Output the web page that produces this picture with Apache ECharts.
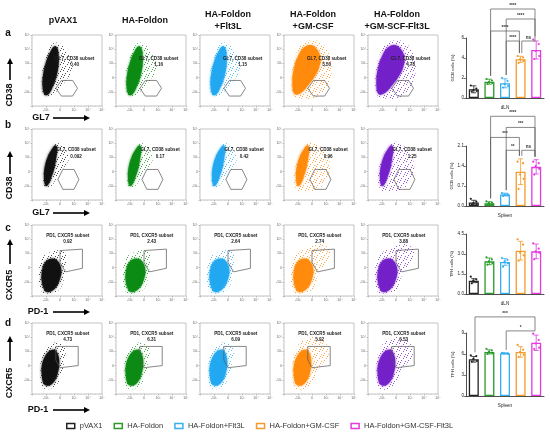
<!DOCTYPE html>
<html lang="en" style="height: 100%">
<head>
<meta charset="UTF-8">
<title>GC B and TFH cells</title>
<script src="https://cdn.jsdelivr.net/npm/echarts@6/dist/echarts.min.js"></script>
</head>
<body style="height: 100%; margin: 0; background: #fff">
<div id="container" style="width: 550px; height: 435px"></div>
<script>
// ---- data ----
var groups = ['pVAX1', 'HA-Foldon', 'HA-Foldon+Flt3L', 'HA-Foldon+GM-CSF', 'HA-Foldon+GM-CSF-Flt3L'];
var headers = ['pVAX1', 'HA-Foldon', 'HA-Foldon\n+Flt3L', 'HA-Foldon\n+GM-CSF', 'HA-Foldon\n+GM-SCF-Flt3L'];
var rowLetters = ['a', 'b', 'c', 'd'];
var gateNames = ['GL7, CD38 subset', 'GL7, CD38 subset', 'PD1, CXCR5 subset', 'PD1, CXCR5 subset'];

// gate frequencies printed in each dot plot
var gcbDlnGate = ['0.40', '1.16', '1.15', '3.50', '4.78'];
var gcbSpleenGate = ['0.092', '0.17', '0.42', '0.96', '1.25'];
var tfhDlnGate = ['0.92', '2.43', '2.64', '2.74', '3.88'];
var tfhSpleenGate = ['4.73', '6.31', '6.09', '5.92', '6.53'];

// gates (x, y on a 0-100 display scale)
var hexGateA = [[34, 25], [42, 36], [58, 36], [65, 25], [58, 14], [42, 14]];
var hexGateB = [[37, 29], [44, 43], [60, 43], [67, 29], [60, 15], [44, 15]];
var tfhGateC = [[40, 64], [72, 66], [72, 39], [48, 34], [40, 47]];
var tfhGateD = [[34, 67], [66, 67], [66, 40], [40, 37], [34, 48]];

// outlines of the dense cores and sparse fringes of the event clouds
var coreA = [[18, 16], [15, 28], [16, 45], [20, 62], [26, 76], [32, 84], [36, 82], [38, 72], [38, 58], [35, 42], [30, 28], [24, 17]];
var fringeA = [[17, 15], [14, 40], [20, 70], [30, 88], [40, 88], [48, 78], [56, 64], [58, 50], [50, 38], [40, 26], [28, 15]];
var coreAwide = [[15, 17], [12, 33], [14, 52], [20, 70], [28, 82], [38, 86], [47, 80], [52, 68], [50, 54], [44, 42], [35, 30], [25, 19]];
var fringeAwide = [[14, 14], [11, 45], [20, 80], [35, 92], [52, 90], [62, 78], [68, 60], [66, 36], [58, 20], [44, 12], [28, 10]];
var coreB = [[19, 20], [17, 32], [18, 46], [22, 60], [28, 71], [33, 77], [36, 74], [35, 62], [32, 45], [27, 30], [22, 20]];
var fringeB = [[18, 18], [17, 40], [24, 66], [33, 80], [41, 78], [50, 68], [53, 58], [46, 46], [37, 34], [28, 20]];
var fringeBwide = [[17, 16], [16, 45], [26, 72], [36, 82], [48, 78], [60, 66], [66, 48], [62, 28], [50, 16], [32, 12]];
var coreC = [[17, 10], [14, 20], [14, 34], [18, 46], [25, 52], [33, 52], [39, 46], [42, 36], [40, 24], [34, 12], [26, 6], [20, 6]];
var fringeC = [[14, 6], [10, 32], [15, 54], [27, 62], [40, 64], [50, 58], [48, 44], [46, 26], [40, 10], [27, 4]];
var fringeCwide = [[14, 6], [10, 32], [15, 56], [28, 66], [42, 72], [58, 72], [66, 60], [58, 44], [48, 28], [40, 8], [27, 4]];
var coreD = [[17, 14], [14, 26], [14, 40], [18, 52], [24, 60], [32, 62], [37, 56], [39, 44], [37, 30], [32, 18], [24, 12]];
var fringeD = [[15, 10], [12, 35], [15, 58], [25, 70], [38, 72], [48, 64], [46, 48], [43, 30], [36, 14], [25, 7]];
var fringeDwide = [[15, 10], [12, 38], [16, 62], [28, 76], [45, 80], [60, 72], [64, 55], [55, 42], [45, 25], [35, 10], [24, 6]];

var flowTickText = {20: '-10³', 40: '0', 60: '10³', 80: '10⁴', 100: '10⁵'};

// bar charts: means, SD and single mice
var gcbDlnMean = [0.87, 1.63, 1.47, 3.87, 4.8];
var gcbDlnSd = [0.35, 0.25, 0.45, 0.3, 0.9];
var gcbDlnDots = [[1.25, 0.95, 0.8, 0.7, 0.65], [1.9, 1.75, 1.6, 1.5, 1.4], [2.0, 1.7, 1.4, 1.2, 1.05], [4.2, 4.05, 3.9, 3.7, 3.5], [5.85, 5.4, 4.7, 4.2, 3.9]];
var gcbSpleenMean = [0.12, 0.1, 0.4, 1.2, 1.37];
var gcbSpleenSd = [0.08, 0.05, 0.05, 0.45, 0.25];
var gcbSpleenDots = [[0.25, 0.15, 0.1, 0.07, 0.05], [0.16, 0.12, 0.1, 0.07, 0.05], [0.45, 0.42, 0.4, 0.37, 0.35], [1.55, 1.5, 1.1, 0.95, 0.6], [1.55, 1.5, 1.4, 1.3, 1.1]];
var tfhDlnMean = [1.0, 2.45, 2.4, 3.25, 3.2];
var tfhDlnSd = [0.15, 0.25, 0.25, 0.7, 0.55];
var tfhDlnDots = [[1.3, 1.1, 1.0, 0.9, 0.8], [2.75, 2.6, 2.45, 2.3, 2.2], [2.7, 2.55, 2.45, 2.3, 2.05], [4.1, 3.7, 3.1, 2.9, 2.5], [3.8, 3.4, 3.2, 3.1, 2.6]];
var tfhSpleenMean = [5.24, 6.3, 6.1, 6.3, 7.6];
var tfhSpleenSd = [0.4, 0.3, 0.05, 0.75, 1.1];
var tfhSpleenDots = [[5.8, 5.7, 5.3, 5.0, 4.9], [6.75, 6.5, 6.3, 6.1, 6.0], [6.15, 6.1, 6.1, 6.05, 6.1], [7.3, 6.6, 6.3, 5.9, 5.6], [8.9, 8.0, 7.5, 6.9, 6.7]];

var gcbDlnTicks = [0, 2, 4, 6];
var gcbSpleenTicks = [0, 0.7, 1.4, 2.1];
var tfhDlnTicks = [0, 1.5, 3, 4.5];
var tfhSpleenTicks = [0, 3, 6, 9];

// significance brackets: [from group, to group, height in axis units, label]
var gcbDlnSig = [[1, 4, 8.9, '****'], [2, 4, 7.9, '****'], [1, 3, 6.7, '****'], [2, 3, 5.7, '****'], [3, 4, 5.7, 'ns']];
var gcbSpleenSig = [[1, 4, 3.14, '****'], [2, 4, 2.75, '***'], [1, 3, 2.4, '***'], [2, 3, 1.95, '**'], [3, 4, 1.95, 'ns']];
var tfhDlnSig = [];
var tfhSpleenSig = [[0, 4, 11.3, '***'], [2, 4, 9.3, '*']];

// ---- styling / layout ----
var flowColors = ['#111111', '#0b8a14', '#22a8f0', '#ff8a0c', '#7420c8'];
var barColors = ['#222222', '#2a9a2a', '#36aef0', '#f59a2c', '#e23be0'];
var font = '"Liberation Sans", Arial, sans-serif';
var colLeft = [32, 116, 200, 284, 368];
var rowTop = [35, 129, 225, 323];
var headerX = [63, 145, 228, 313, 397];
var barTop = [38, 146, 234, 333];
var barHeight = [60, 60, 60, 63];
var barNames = ['dLN', 'Spleen', 'dLN', 'Spleen'];
var barYNames = ['GCB cells (%)', 'GCB cells (%)', 'TFH cells (%)', 'TFH cells (%)'];
var barDecimals = [0, 1, 1, 0];
var dotOffsets = [-3, 2.5, -0.5, 3, -2];

var rows = [
    {gate: hexGateA, values: gcbDlnGate, cores: [coreA, coreA, coreA, coreAwide, coreAwide], fringes: [fringeA, fringeA, fringeA, fringeAwide, fringeAwide], text: [61, 67], value: [61, 58]},
    {gate: hexGateB, values: gcbSpleenGate, cores: [coreB, coreB, coreB, coreB, coreB], fringes: [fringeB, fringeB, fringeB, fringeBwide, fringeBwide], text: [63, 71], value: [63, 61]},
    {gate: tfhGateC, values: tfhDlnGate, cores: [coreC, coreC, coreC, coreC, coreC], fringes: [fringeC, fringeC, fringeC, fringeCwide, fringeCwide], text: [51, 85], value: [51, 76]},
    {gate: tfhGateD, values: tfhSpleenGate, cores: [coreD, coreD, coreD, coreD, coreD], fringes: [fringeD, fringeD, fringeD, fringeDwide, fringeDwide], text: [51, 85], value: [51, 76]}
];
var bars = [
    {mean: gcbDlnMean, sd: gcbDlnSd, dots: gcbDlnDots, ticks: gcbDlnTicks, sig: gcbDlnSig},
    {mean: gcbSpleenMean, sd: gcbSpleenSd, dots: gcbSpleenDots, ticks: gcbSpleenTicks, sig: gcbSpleenSig},
    {mean: tfhDlnMean, sd: tfhDlnSd, dots: tfhDlnDots, ticks: tfhDlnTicks, sig: tfhDlnSig},
    {mean: tfhSpleenMean, sd: tfhSpleenSd, dots: tfhSpleenDots, ticks: tfhSpleenTicks, sig: tfhSpleenSig}
];

// sparse stipple texture for the thin part of each cloud
function stipple(color) {
    var c = document.createElement('canvas');
    c.width = c.height = 7;
    var ctx = c.getContext('2d');
    ctx.fillStyle = color;
    ctx.globalAlpha = 0.75;
    [[0, 0], [4, 1], [2, 3], [6, 4], [1, 5], [5, 6]].forEach(function (p) {
        ctx.fillRect(p[0], p[1], 1, 1);
    });
    return {image: c, repeat: 'repeat'};
}
var textures = flowColors.map(stipple);

var grid = [], xAxis = [], yAxis = [], series = [];

rows.forEach(function (row, r) {
    groups.forEach(function (g, c) {
        var gi = grid.length;
        grid.push({left: colLeft[c], top: rowTop[r], width: 70, height: 71, show: true,
            borderColor: '#aaa', borderWidth: 0.7, backgroundColor: '#fff'});
        var flowAxis = {
            gridIndex: gi, type: 'value', min: 0, max: 100, interval: 20,
            splitLine: {show: false},
            axisLine: {show: false},
            axisTick: {show: true, length: 1.5, lineStyle: {color: '#888', width: 0.5}},
            minorTick: {show: true, splitNumber: 4, length: 0.8, lineStyle: {color: '#aaa', width: 0.4}},
            axisLabel: {fontSize: 3.5, margin: 2, color: '#666', fontFamily: font,
                formatter: function (v) { return flowTickText[v] || ''; }}
        };
        xAxis.push(flowAxis);
        yAxis.push(Object.assign({}, flowAxis));
        series.push({
            type: 'custom', xAxisIndex: gi, yAxisIndex: gi, silent: true, clip: true,
            data: [[0, 0]],
            renderItem: function (params, api) {
                function pts(list) { return list.map(function (p) { return api.coord(p); }); }
                var col = flowColors[c];
                var t = api.coord(row.text), v = api.coord(row.value);
                return {type: 'group', children: [
                    {type: 'polygon', shape: {points: pts(row.fringes[c]), smooth: 0.4},
                        style: {fill: textures[c]}},
                    {type: 'polygon', shape: {points: pts(row.cores[c]), smooth: 0.4},
                        style: {fill: col, opacity: 0.95, shadowBlur: 2.5, shadowColor: col}},
                    {type: 'polygon', shape: {points: pts(row.gate)},
                        style: {fill: 'none', stroke: '#555', lineWidth: 0.7}},
                    {type: 'text', style: {text: gateNames[r], x: t[0], y: t[1], align: 'center', verticalAlign: 'middle',
                        font: 'bold 4.6px ' + font, fill: '#222'}},
                    {type: 'text', style: {text: row.values[c], x: v[0], y: v[1], align: 'center', verticalAlign: 'middle',
                        font: 'bold 4.6px ' + font, fill: '#222'}}
                ]};
            }
        });
    });
});

bars.forEach(function (b, k) {
    var gi = grid.length;
    grid.push({left: 466, top: barTop[k], width: 78, height: barHeight[k]});
    xAxis.push({
        gridIndex: gi, type: 'category', data: groups,
        axisLine: {lineStyle: {color: '#222', width: 0.8}},
        axisTick: {alignWithLabel: true, length: 2, lineStyle: {color: '#222', width: 0.6}},
        axisLabel: {show: false},
        name: barNames[k], nameLocation: 'middle', nameGap: 7,
        nameTextStyle: {fontSize: 4.6, color: '#222', fontFamily: font}
    });
    yAxis.push({
        gridIndex: gi, type: 'value', min: 0, max: b.ticks[b.ticks.length - 1], interval: b.ticks[1],
        splitLine: {show: false},
        axisLine: {show: true, lineStyle: {color: '#222', width: 0.8}},
        axisTick: {show: true, length: 2, lineStyle: {color: '#222', width: 0.6}},
        axisLabel: {fontSize: 4.6, margin: 2, color: '#222', fontFamily: font,
            formatter: function (v) { return v.toFixed(barDecimals[k]); }},
        name: barYNames[k], nameLocation: 'middle', nameGap: 11, nameRotate: 90,
        nameTextStyle: {fontSize: 4.3, color: '#222', fontFamily: font}
    });
    // highest mark of each group, used to end the bracket legs
    var groupTop = b.mean.map(function (m, i) {
        return Math.max(m + b.sd[i], Math.max.apply(null, b.dots[i]));
    });
    series.push({
        type: 'bar', xAxisIndex: gi, yAxisIndex: gi, barWidth: 10, silent: true,
        itemStyle: {color: '#fff', borderWidth: 1.3},
        data: b.mean.map(function (m, i) {
            return {value: m, itemStyle: {borderColor: barColors[i]}};
        })
    });
    series.push({
        type: 'custom', xAxisIndex: gi, yAxisIndex: gi, silent: true, z: 3,
        data: b.mean.map(function (m, i) { return [i, m, b.sd[i]]; }),
        renderItem: function (params, api) {
            var i = api.value(0), m = api.value(1), s = api.value(2);
            var top = api.coord([i, m + s]), bot = api.coord([i, Math.max(0, m - s)]);
            var x = top[0], st = {stroke: barColors[i], lineWidth: 0.8};
            return {type: 'group', children: [
                {type: 'line', shape: {x1: x, y1: top[1], x2: x, y2: bot[1]}, style: st},
                {type: 'line', shape: {x1: x - 2.5, y1: top[1], x2: x + 2.5, y2: top[1]}, style: st},
                {type: 'line', shape: {x1: x - 2.5, y1: bot[1], x2: x + 2.5, y2: bot[1]}, style: st}
            ]};
        }
    });
    var dotData = [];
    b.dots.forEach(function (list, i) {
        list.forEach(function (v, j) { dotData.push([i, v, j]); });
    });
    series.push({
        type: 'custom', xAxisIndex: gi, yAxisIndex: gi, silent: true, z: 4,
        data: dotData,
        renderItem: function (params, api) {
            var i = api.value(0), p = api.coord([i, api.value(1)]);
            return {type: 'circle', shape: {cx: p[0] + dotOffsets[api.value(2)], cy: p[1], r: 1.1},
                style: {fill: barColors[i]}};
        }
    });
    if (b.sig.length) {
        series.push({
            type: 'custom', xAxisIndex: gi, yAxisIndex: gi, silent: true, clip: false, z: 5,
            data: b.sig.map(function (s) { return [s[0], s[1], s[2]]; }),
            renderItem: function (params, api) {
                var s = b.sig[params.dataIndex];
                var a = api.coord([s[0], s[2]]), e = api.coord([s[1], s[2]]);
                var la = api.coord([s[0], groupTop[s[0]]])[1] - 3;
                var le = api.coord([s[1], groupTop[s[1]]])[1] - 3;
                var x1 = a[0] + 1.2, x2 = e[0] - 1.2, y = a[1];
                var st = {stroke: '#555', lineWidth: 0.7, fill: 'none'};
                return {type: 'group', children: [
                    {type: 'polyline', shape: {points: [[x1, la], [x1, y], [x2, y], [x2, le]]}, style: st},
                    {type: 'text', style: {text: s[3], x: (x1 + x2) / 2, y: y - 1, align: 'center',
                        verticalAlign: 'bottom', font: 'bold 4.6px ' + font, fill: '#333'}}
                ]};
            }
        });
    }
});

// empty series that only carry the legend entries
groups.forEach(function (g, i) {
    series.push({type: 'line', name: g, xAxisIndex: 20, yAxisIndex: 20, data: [],
        itemStyle: {color: '#fff', borderColor: barColors[i], borderWidth: 1.5}});
});

// axis titles with arrows, column headers and panel letters
var graphics = [];
function arrowUp(x, tip, tail) {
    graphics.push({type: 'line', shape: {x1: x, y1: tail, x2: x, y2: tip + 5}, style: {stroke: '#000', lineWidth: 1.6}});
    graphics.push({type: 'polygon', shape: {points: [[x, tip], [x - 3, tip + 6], [x + 3, tip + 6]]}, style: {fill: '#000'}});
}
function arrowRight(tail, tip, y) {
    graphics.push({type: 'line', shape: {x1: tail, y1: y, x2: tip - 5, y2: y}, style: {stroke: '#000', lineWidth: 1.6}});
    graphics.push({type: 'polygon', shape: {points: [[tip, y], [tip - 6, y - 3], [tip - 6, y + 3]]}, style: {fill: '#000'}});
}
function label(text, x, y, size, rotate) {
    graphics.push({type: 'text', x: x, y: y, rotation: rotate ? Math.PI / 2 : 0,
        style: {text: text, x: 0, y: 0, align: 'center', verticalAlign: 'middle',
            font: 'bold ' + size + 'px ' + font, fill: '#111', lineHeight: 12}});
}
headers.forEach(function (h, i) { label(h, headerX[i], 21, 9); });
rowLetters.forEach(function (l, i) { label(l, 8, [33, 125, 228, 323][i], 10); });
label('CD38', 10, 95, 9, true); arrowUp(10, 58, 80);
label('CD38', 10, 188, 9, true); arrowUp(10, 151, 174);
label('CXCR5', 10, 285, 9, true); arrowUp(10, 239, 264);
label('CXCR5', 10, 383, 9, true); arrowUp(10, 336, 361);
label('GL7', 41, 118, 9); arrowRight(53, 90, 118);
label('GL7', 41, 213, 9); arrowRight(53, 90, 213);
label('PD-1', 38, 312, 9); arrowRight(53, 90, 312);
label('PD-1', 38, 410, 9); arrowRight(53, 90, 410);

var myChart = echarts.init(document.getElementById('container'));
var option = {
    animation: false,
    backgroundColor: '#fff',
    grid: grid,
    xAxis: xAxis,
    yAxis: yAxis,
    legend: {
        left: 66, top: 422, padding: 0, itemWidth: 8, itemHeight: 5, itemGap: 11,
        selectedMode: false,
        textStyle: {fontSize: 7.5, color: '#333', fontFamily: font},
        data: groups.map(function (g, i) {
            return {name: g, icon: 'rect', itemStyle: {color: '#fff', borderColor: barColors[i], borderWidth: 1.5}};
        })
    },
    graphic: graphics,
    series: series
};
myChart.setOption(option);
</script>
</body>
</html>
